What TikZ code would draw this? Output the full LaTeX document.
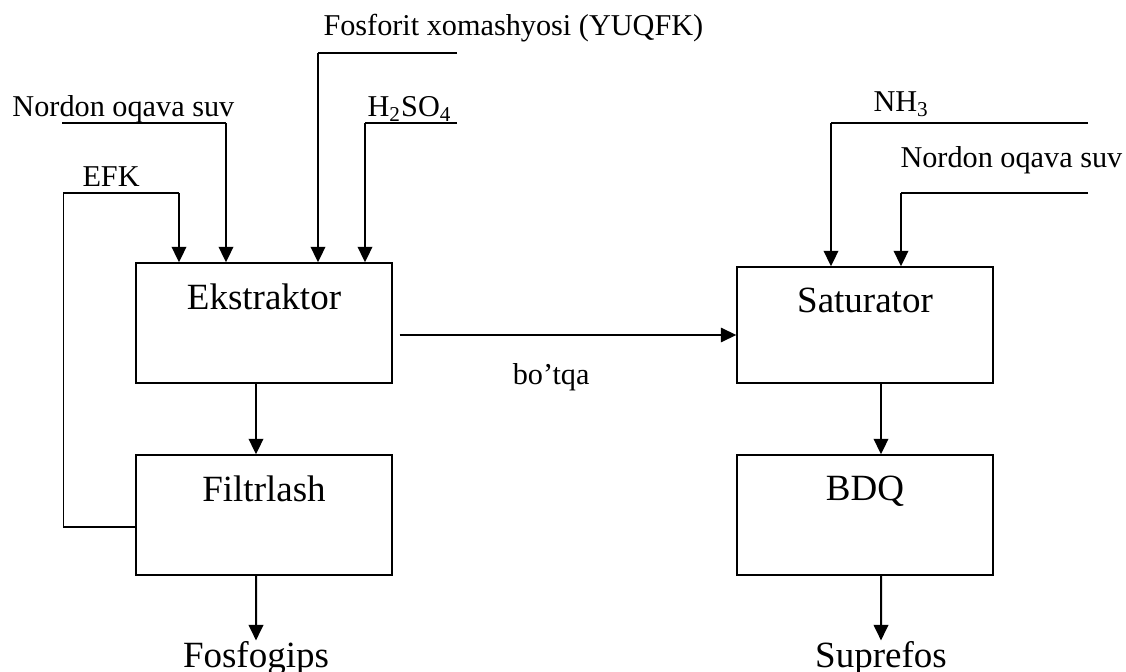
\documentclass[tikz,border=0pt]{standalone}
\usepackage{fontspec}
\setmainfont{Liberation Serif}
\usetikzlibrary{arrows.meta}

\begin{document}
\begin{tikzpicture}[
    x=0.4pt, y=-0.4pt,
    lbl/.style={inner sep=0pt, font=\fontsize{12.1}{15}\selectfont},
    bigtext/.style={inner sep=0pt, font=\fontsize{14.8}{17}\selectfont},
    boxtext/.style={bigtext, anchor=north, yshift=-8.4pt},
    box/.style={draw, line width=0.55pt, minimum width=102.4pt, minimum height=48pt, inner sep=0pt, label={[boxtext]north:#1}},
    line/.style={line width=0.55pt},
    arrow/.style={-{Triangle[length=6.2pt, width=5.8pt]}, line width=0.8pt},
  ]
  \useasboundingbox (0,0) rectangle (1126,672);

  % apparatus
  \node[box={Ekstraktor}] (ekstr) at (264,323) {};
  \node[box={Filtrlash}] (filtr) at (264,515) {};
  \node[box={Saturator}, minimum height=46.4pt] (satur) at (865,325) {};
  \node[box={BDQ}] (bdq) at (865,515) {};

  % stream names
  \node[lbl, anchor=base west] (fosforit) at (323,36) {Fosforit xomashyosi (YUQFK)};
  \node[lbl, anchor=base west] (suv1) at (12,117) {Nordon oqava suv};
  \node[lbl, anchor=base west] (h2so4) at (367,117) {H\textsubscript{2}SO\textsubscript{4}};
  \node[lbl, anchor=base west] (efk) at (82,187) {EFK};
  \node[lbl, anchor=base west] (nh3) at (873,112) {NH\textsubscript{3}};
  \node[lbl, anchor=base west] (suv2) at (900,168) {Nordon oqava suv};
  \node[bigtext, anchor=base] (fosfogips) at (256,667) {Fosfogips};
  \node[bigtext, anchor=base] (suprefos) at (881,667) {Suprefos};

  % inlet points
  \coordinate (fosin) at (457,53);  \coordinate (fosdrop) at (318,53);
  \coordinate (acidin) at (457,123); \coordinate (aciddrop) at (365,123);
  \coordinate (suv1in) at (62,123); \coordinate (suv1drop) at (226,123);
  \coordinate (nh3in) at (1088,123); \coordinate (nh3drop) at (831,123);
  \coordinate (suv2in) at (1088,193); \coordinate (suv2drop) at (901,193);
  \coordinate (efkdrop) at (179,193);

  % feeds into the extractor
  \draw[line] (fosin) -- (fosdrop);
  \draw[arrow] (fosdrop) -- (fosdrop |- ekstr.north);
  \draw[line] (acidin) -- (aciddrop);
  \draw[arrow] (aciddrop) -- (aciddrop |- ekstr.north);
  \draw[line] (suv1in) -- (suv1drop);
  \draw[arrow] (suv1drop) -- (suv1drop |- ekstr.north);
  % acid recycle from the filter
  \draw[line] ([yshift=-4.8pt]filtr.west) -- ++(-72,0) |- (efkdrop);
  \draw[arrow] (efkdrop) -- (efkdrop |- ekstr.north);

  % feeds into the saturator
  \draw[line] (nh3in) -- (nh3drop);
  \draw[arrow] (nh3drop) -- (nh3drop |- satur.north);
  \draw[line] (suv2in) -- (suv2drop);
  \draw[arrow] (suv2drop) -- (suv2drop |- satur.north);

  % main flow
  \draw[arrow] ([xshift=-3.2pt]ekstr.south) -- ([xshift=-3.2pt]filtr.north);
  \draw[arrow] ([xshift=-3.2pt]filtr.south) -- (fosfogips.north);
  \draw[arrow, line width=0.6pt] ([xshift=2.8pt, yshift=-4.8pt]ekstr.east) -- ([yshift=-4.8pt]ekstr.east -| satur.west)
    node[lbl, pos=0.45, below=11pt] (botqa) {bo’tqa};
  \draw[arrow] ([xshift=6.4pt]satur.south) -- ([xshift=6.4pt]bdq.north);
  \draw[arrow] ([xshift=6.4pt]bdq.south) -- (suprefos.north);
\end{tikzpicture}
\end{document}
